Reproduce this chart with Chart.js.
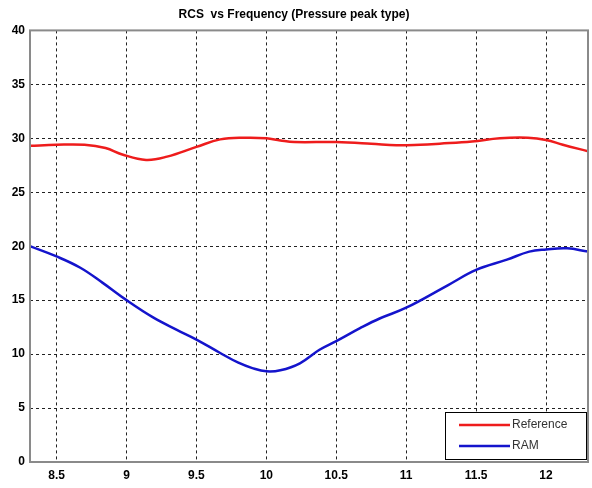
<!DOCTYPE html>
<html>
<head>
<meta charset="utf-8">
<script src="https://cdn.jsdelivr.net/npm/chart.js@4/dist/chart.umd.min.js"></script>
<style>
  html, body { margin: 0; padding: 0; background: #fff; }
  #wrap { width: 592px; height: 488px; }
</style>
</head>
<body>
<div id="wrap"><canvas id="c"></canvas></div>
<script>
const refFreq = [8.31, 8.5, 8.7, 8.85, 8.97, 9.14, 9.29, 9.5, 9.67, 9.85, 10.0, 10.1, 10.2, 10.5, 10.75, 10.93, 11.1, 11.24, 11.47, 11.67, 11.87, 12.0, 12.12, 12.3]
const refRcs = [29.3, 29.4, 29.4, 29.1, 28.5, 28.0, 28.3, 29.2, 29.9, 30.05, 30.0, 29.8, 29.65, 29.65, 29.5, 29.35, 29.4, 29.5, 29.7, 30.0, 30.05, 29.85, 29.4, 28.8]
const ramFreq = [8.31, 8.5, 8.67, 8.83, 9.0, 9.19, 9.36, 9.5, 9.67, 9.8, 9.9, 10.0, 10.1, 10.24, 10.38, 10.5, 10.67, 10.81, 11.0, 11.3, 11.5, 11.72, 11.88, 12.0, 12.15, 12.3]
const ramRcs = [20.0, 19.05, 18.0, 16.6, 15.0, 13.4, 12.25, 11.35, 10.1, 9.2, 8.7, 8.4, 8.5, 9.15, 10.4, 11.2, 12.4, 13.3, 14.3, 16.4, 17.8, 18.75, 19.5, 19.7, 19.8, 19.5]
const seriesNames = ['Reference', 'RAM']
const xTicks = [8.5, 9, 9.5, 10, 10.5, 11, 11.5, 12]

const redColor = '#ee1c1c'
const blueColor = '#1414cc'
const gridColor = '#222222'
const tickFont = { family: 'Liberation Sans', size: 12, weight: 'bold' }

const toPoints = (xs, ys) => xs.map((x, i) => ({ x: x, y: ys[i] }))

// box round the plot and the legend in the lower right corner
const frameAndLegend = {
  id: 'frameAndLegend',
  afterDatasetsDraw(chart) {
    const ctx = chart.ctx
    const a = chart.chartArea
    ctx.save()
    ctx.setLineDash([])
    ctx.strokeStyle = '#8a8a8a'
    ctx.lineWidth = 2
    ctx.strokeRect(a.left, a.top, a.right - a.left, a.bottom - a.top)

    const w = 141, h = 47
    const bx = a.right - w - 2, by = a.bottom - h - 3
    ctx.fillStyle = '#fff'
    ctx.fillRect(bx, by, w, h)
    ctx.strokeStyle = '#000'
    ctx.lineWidth = 1
    ctx.strokeRect(bx + 0.5, by + 0.5, w, h)

    ctx.font = '12px "Liberation Sans"'
    ctx.textBaseline = 'middle'
    chart.data.datasets.forEach((ds, i) => {
      const ly = by + 13 + i * 21
      ctx.strokeStyle = ds.borderColor
      ctx.lineWidth = 2.5
      ctx.beginPath()
      ctx.moveTo(bx + 14, ly)
      ctx.lineTo(bx + 65, ly)
      ctx.stroke()
      ctx.fillStyle = '#333'
      ctx.fillText(ds.label, bx + 67, ly)
    })
    ctx.restore()
  }
}

new Chart(document.getElementById('c'), {
  type: 'line',
  data: {
    datasets: [
      {
        label: seriesNames[0],
        data: toPoints(refFreq, refRcs),
        borderColor: redColor,
        borderWidth: 2.5,
        pointRadius: 0,
        tension: 0.4,
        fill: false
      },
      {
        label: seriesNames[1],
        data: toPoints(ramFreq, ramRcs),
        borderColor: blueColor,
        borderWidth: 2.5,
        pointRadius: 0,
        tension: 0.4,
        fill: false
      }
    ]
  },
  options: {
    responsive: true,
    maintainAspectRatio: false,
    animation: false,
    layout: { padding: { right: 4, left: 0, bottom: 0 } },
    plugins: {
      legend: { display: false },
      tooltip: { enabled: false },
      title: {
        display: true,
        text: 'RCS  vs Frequency (Pressure peak type)',
        color: '#000',
        font: { family: 'Liberation Sans', size: 12, weight: 'bold' },
        padding: { top: 7, bottom: 9 }
      }
    },
    scales: {
      x: {
        type: 'linear',
        min: 8.31,
        max: 12.3,
        afterBuildTicks: (axis) => { axis.ticks = xTicks.map(v => ({ value: v })) },
        afterFit: (axis) => { axis.height = 26 },
        grid: { color: gridColor, lineWidth: 1, drawTicks: false },
        border: { display: false, dash: [3, 3] },
        ticks: {
          color: '#000', font: tickFont, padding: 6, maxRotation: 0,
          callback: (v) => String(v)
        }
      },
      y: {
        min: 0,
        max: 40,
        afterFit: (axis) => { axis.width = 30 },
        grid: { color: gridColor, lineWidth: 1, drawTicks: false },
        border: { display: false, dash: [3, 3] },
        ticks: { color: '#000', font: tickFont, stepSize: 5, padding: 5 }
      }
    }
  },
  plugins: [frameAndLegend]
})
</script>
</body>
</html>
